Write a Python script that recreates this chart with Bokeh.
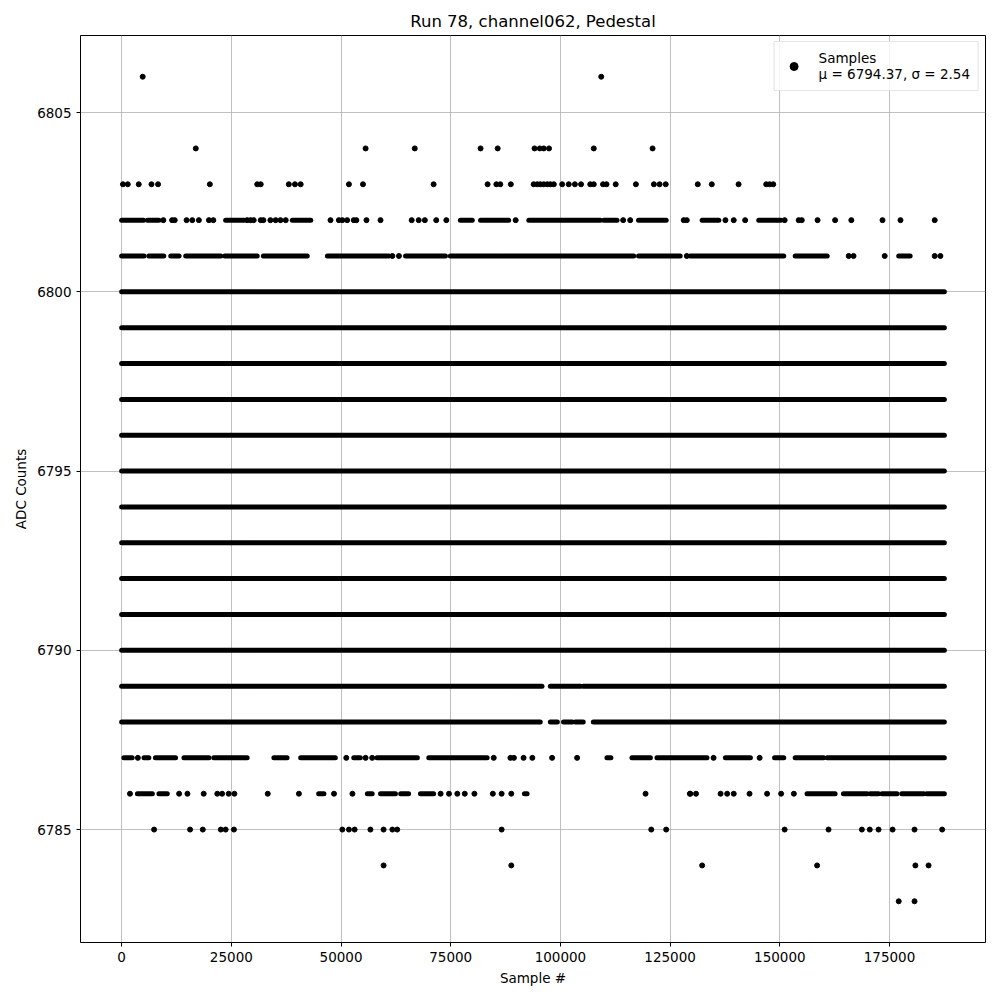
from bokeh.plotting import figure
from bokeh.models import Range1d, FixedTicker, PrintfTickFormatter, Legend, LegendItem, ColumnDataSource
from bokeh.embed import file_html
from bokeh.resources import INLINE

# ---------------- data ----------------
N_SAMPLES = 187500
dense_levels = [6790, 6791, 6792, 6793, 6794, 6795, 6796, 6797, 6798, 6799, 6800]

# continuous runs of samples (start, end) per ADC level
runs_6801 = [(0, 5100), (6200, 9600), (11200, 13100), (14600, 22600), (23500, 30900),
             (32300, 42300), (46900, 60900), (64700, 73800), (74900, 86700),
             (87100, 116700), (117800, 127300), (129600, 150900), (153500, 160800),
             (177100, 179700)]
runs_6802 = [(0, 5000), (5900, 8500), (23700, 27900), (38900, 43100), (77200, 79900),
             (81800, 88200), (92800, 109100), (109900, 112900), (117800, 124100),
             (132300, 136100), (145200, 150200)]
runs_6789 = [(0, 95800), (97700, 104600), (105200, N_SAMPLES)]
runs_6788 = [(0, 95400), (97700, 99300), (100700, 102700), (103400, 105200), (107500, N_SAMPLES)]
runs_6787 = [(500, 2400), (5100, 6200), (7700, 12300), (14200, 19900), (21000, 28600),
             (34700, 37700), (40800, 48700), (52900, 54400), (58200, 67400),
             (70000, 83300), (110600, 111500), (116300, 120500), (122000, 133400),
             (137600, 143300), (148800, 150900), (153500, 160000), (160800, N_SAMPLES)]
runs_6786 = [(3600, 7000), (8500, 10400), (44900, 46100), (56000, 57100), (59000, 62400),
             (63600, 65400), (68100, 71100), (91800, 92400), (156200, 162600),
             (164500, 169900), (170600, 172500), (173300, 176700), (177800, 182800),
             (183500, N_SAMPLES)]

# isolated samples per ADC level
pts_6806 = [4800, 109300]
pts_6804 = [16900, 55600, 66800, 81800, 85700, 94100, 95300, 96200, 97400, 107600, 121000]
pts_6803 = [300, 1400, 3900, 6800, 8300, 20100, 30900, 31700, 38100, 39500, 40800, 51800,
            55000, 71100, 83400, 85400, 86300, 88700, 93900, 94700, 95400, 96200, 97000,
            97700, 98500, 100400, 101900, 103300, 104700, 106800, 107600, 109700, 110500,
            112600, 117200, 121300, 122600, 124000, 131300, 134500, 140600, 146900,
            147700, 148500]
pts_6802 = [9500, 11500, 12100, 14800, 16100, 17600, 19900, 20900, 28600, 29400, 30100,
            31700, 32300, 33900, 35100, 36200, 37400, 47600, 49500, 50300, 51400, 52900,
            53500, 55800, 59000, 66100, 67700, 69100, 71700, 74000, 89800, 114300, 115900,
            128100, 128800, 137600, 139500, 142100, 151100, 154300, 155000, 158600,
            162600, 166300, 173400, 177500, 185300]
pts_6801 = [61700, 63200, 128800, 165700, 166800, 173900, 185300, 186600]
pts_6787 = [3700, 51200, 55600, 57100, 84800, 88600, 89400, 91600, 93600, 98100, 103800,
            134900, 145400]
pts_6786 = [1900, 13100, 15000, 18700, 21800, 22900, 24400, 25700, 33300, 40400, 48400,
            52600, 72700, 74600, 76500, 78200, 80400, 84600, 86600, 88800, 119400, 129500,
            129600, 130900, 136500, 138000, 139500, 143100, 147100, 150300, 153200]
pts_6785 = [7400, 15600, 18500, 22600, 23700, 25600, 50300, 51800, 53100, 56700, 59700,
            61700, 62800, 86600, 120700, 124100, 151100, 161100, 168700, 170500, 172500,
            175700, 180700, 187000]
pts_6784 = [59700, 88800, 132300, 158500, 180900, 183900]
pts_6783 = [177100, 180700]

x_ticks = [0, 25000, 50000, 75000, 100000, 125000, 150000, 175000]
y_ticks = [6785, 6790, 6795, 6800, 6805]
legend_label = "Samples\nμ = 6794.37, σ = 2.54"

# ---------------- build sources ----------------
run_table = {6801: runs_6801, 6802: runs_6802, 6789: runs_6789, 6788: runs_6788,
             6787: runs_6787, 6786: runs_6786}
for lv in dense_levels:
    run_table[lv] = [(0, N_SAMPLES)]
pt_table = {6806: pts_6806, 6804: pts_6804, 6803: pts_6803, 6802: pts_6802, 6801: pts_6801,
            6787: pts_6787, 6786: pts_6786, 6785: pts_6785, 6784: pts_6784, 6783: pts_6783}

sx0, sx1, sy = [], [], []
for lv, runs in run_table.items():
    for a, b in runs:
        sx0.append(a); sx1.append(b); sy.append(lv)
px, py = [], []
for lv, xs in pt_table.items():
    for x in xs:
        px.append(x); py.append(lv)

seg_src = ColumnDataSource(dict(x0=sx0, x1=sx1, y=sy))
pt_src = ColumnDataSource(dict(x=px, y=py))

# ---------------- figure ----------------
xmin, xmax = 0, N_SAMPLES
ymin, ymax = 6783, 6806
xpad = (xmax - xmin) * 0.05
ypad = (ymax - ymin) * 0.05

p = figure(width=993, height=993, output_backend="svg", toolbar_location=None,
           x_range=Range1d(xmin - xpad, xmax + xpad), y_range=Range1d(ymin - ypad, ymax + ypad),
           min_border_left=80, min_border_right=8, min_border_top=35, min_border_bottom=51,
           title="Run 78, channel062, Pedestal")
p.title.align = "center"
p.title.text_font = "DejaVu Sans"
p.title.text_font_size = "16.5px"
p.title.text_font_style = "normal"
p.title.text_color = "black"

p.outline_line_color = "black"
p.outline_line_width = 1
p.background_fill_color = "white"
p.border_fill_color = "white"

for ax in (p.xaxis, p.yaxis):
    ax.axis_line_color = None
    ax.major_tick_line_color = "black"
    ax.major_tick_in = 0
    ax.major_tick_out = 4
    ax.minor_tick_line_color = None
    ax.major_label_text_font = "DejaVu Sans"
    ax.major_label_text_font_size = "13.5px"
    ax.major_label_text_color = "black"
    ax.axis_label_text_font = "DejaVu Sans"
    ax.axis_label_text_font_size = "13.5px"
    ax.axis_label_text_font_style = "normal"
    ax.axis_label_text_color = "black"

p.xaxis.ticker = FixedTicker(ticks=x_ticks)
p.yaxis.ticker = FixedTicker(ticks=y_ticks)
p.xaxis.formatter = PrintfTickFormatter(format="%d")
p.yaxis.formatter = PrintfTickFormatter(format="%d")
p.xaxis.axis_label = "Sample #"
p.yaxis.axis_label = "ADC Counts"

p.xgrid.ticker = FixedTicker(ticks=x_ticks)
p.ygrid.ticker = FixedTicker(ticks=y_ticks)
p.grid.grid_line_color = "#b0b0b0"
p.grid.grid_line_width = 0.8

segs = p.segment(x0="x0", y0="y", x1="x1", y1="y", source=seg_src,
                 line_color="black", line_width=5, line_cap="round")
dots = p.scatter(x="x", y="y", source=pt_src, size=5, fill_color="black",
                 line_color="black", marker="circle")

legend = Legend(items=[LegendItem(label=legend_label, renderers=[dots])],
                location="top_right")
legend.label_text_font = "DejaVu Sans"
legend.label_text_font_size = "13.5px"
legend.label_text_color = "black"
legend.border_line_color = "#cccccc"
legend.border_line_width = 1
legend.background_fill_alpha = 0.8
legend.margin = 6
legend.padding = 8
legend.glyph_width = 22
legend.label_standoff = 14
p.add_layout(legend)

open("out.html", "w").write(file_html(p, INLINE))
